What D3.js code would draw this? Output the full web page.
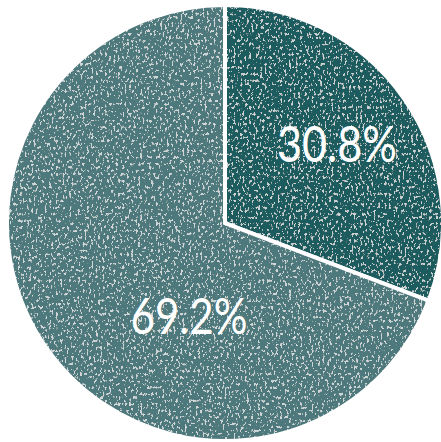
<!DOCTYPE html>
<html><head><meta charset="utf-8">
<script src="https://cdn.jsdelivr.net/npm/d3@7"></script>
<style>html,body{margin:0;padding:0;background:#fff;}svg{display:block;}</style>
</head><body>
<script>
const categories = ["A", "B"];
const values = [30.8, 69.2];
const labels = ["30.8%", "69.2%"];
const colors = ["#1f5b5f", "#4e787c"];

const W = 441, H = 442;
const cx = 225, cy = 223, R = 218;
const svg = d3.select("body").append("svg").attr("width", W).attr("height", H);

const defs = svg.append("defs");
const f = defs.append("filter").attr("id", "grain").attr("x", 0).attr("y", 0).attr("width", 1).attr("height", 1);
f.append("feTurbulence").attr("type", "fractalNoise").attr("baseFrequency", "0.45 0.3").attr("numOctaves", 3).attr("seed", 7).attr("result", "n");
f.append("feColorMatrix").attr("in", "n").attr("type", "matrix")
  .attr("values", "0 0 0 0 1  0 0 0 0 1  0 0 0 0 1  0 0 0 -14 5.6").attr("result", "w");
f.append("feComponentTransfer").attr("in", "w").attr("result", "w2")
  .append("feFuncA").attr("type", "linear").attr("slope", 0.6);
f.append("feComposite").attr("in", "w2").attr("in2", "SourceGraphic").attr("operator", "in").attr("result", "spk");
const m = f.append("feMerge");
m.append("feMergeNode").attr("in", "SourceGraphic");
m.append("feMergeNode").attr("in", "spk");

const pie = d3.pie().sort(null).value(d => d)(values);
const arc = d3.arc().innerRadius(0).outerRadius(R);
const g = svg.append("g").attr("transform", `translate(${cx},${cy})`);
g.selectAll("path").data(pie).join("path")
  .attr("d", arc).attr("fill", (d, i) => colors[i])
  .attr("stroke", "#fff").attr("stroke-width", 4).attr("stroke-linejoin", "miter")
  .attr("filter", "url(#grain)");

const labelPos = [[112, -61], [-36, 111]];
const labelLen = [120, 117];
g.selectAll("text").data(pie).join("text")
  .attr("x", (d, i) => labelPos[i][0]).attr("y", (d, i) => labelPos[i][1])
  .attr("text-anchor", "middle")
  .attr("textLength", (d, i) => labelLen[i]).attr("lengthAdjust", "spacingAndGlyphs")
  .attr("fill", "#fff").attr("font-family", "Lato, 'Open Sans', sans-serif")
  .attr("font-size", 50).text((d, i) => labels[i]);
</script>
</body></html>
